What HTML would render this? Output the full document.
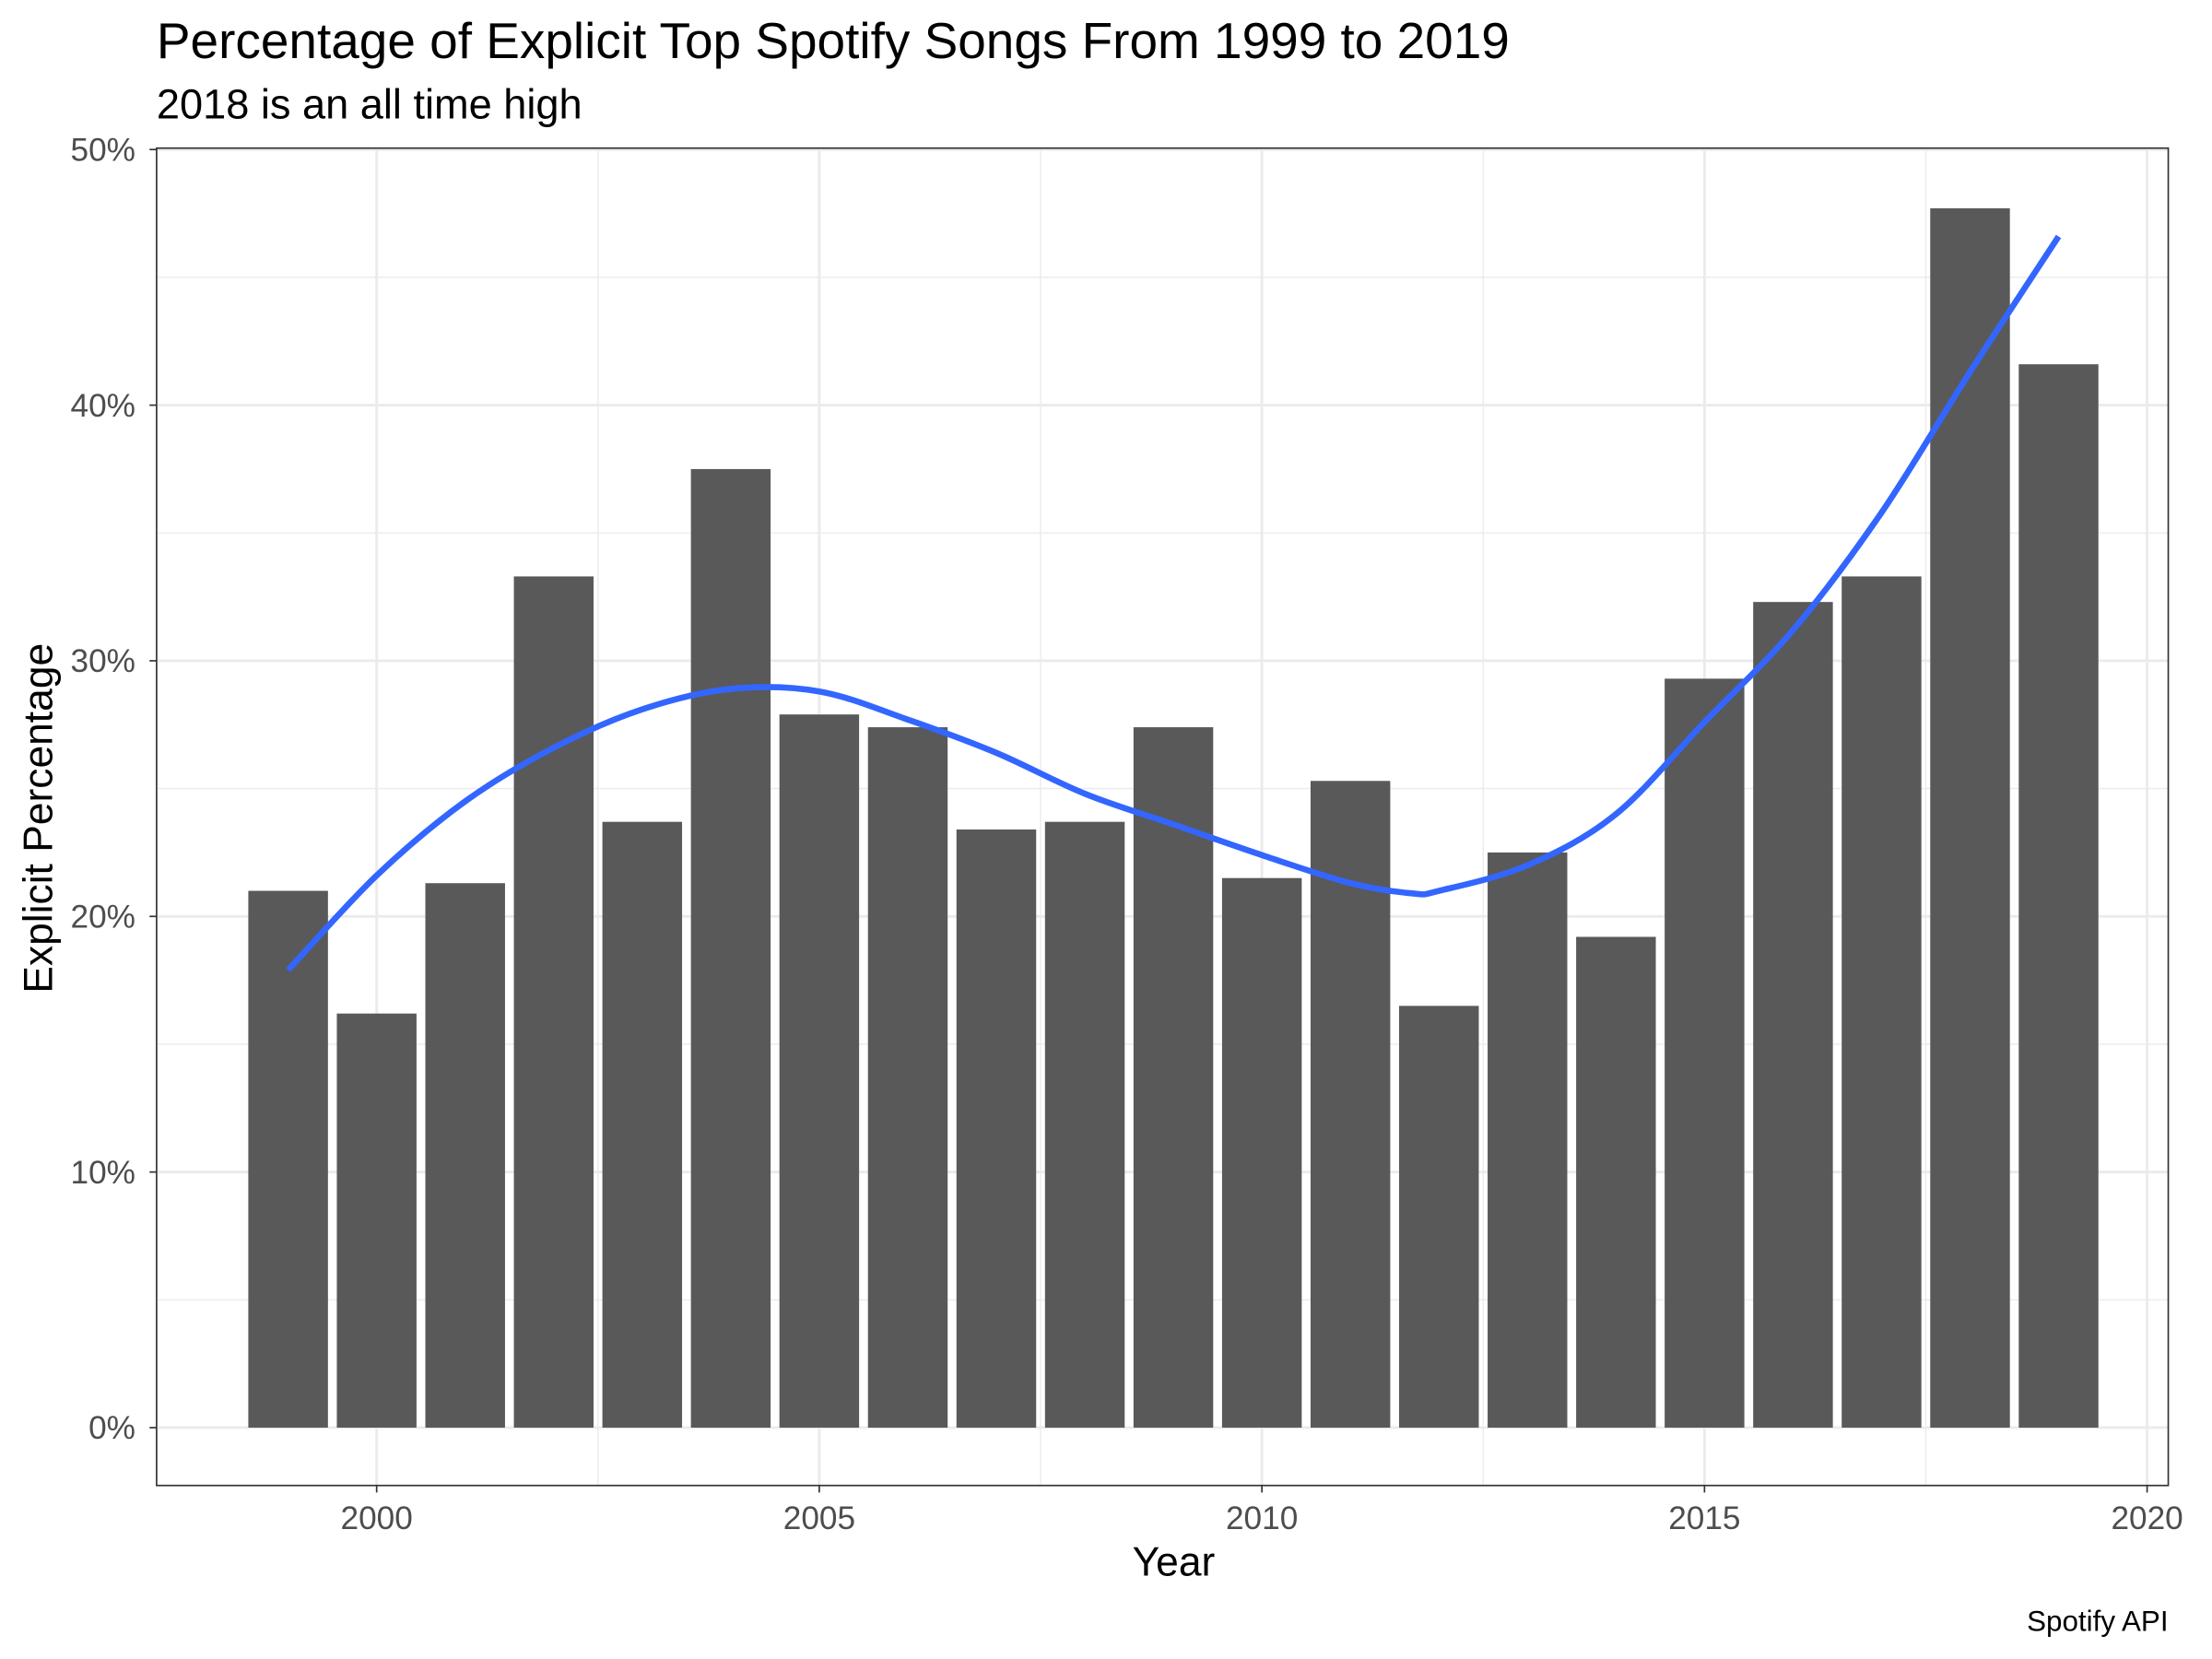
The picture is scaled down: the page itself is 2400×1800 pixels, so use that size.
<!DOCTYPE html>
<html><head><meta charset="utf-8"><style>
html,body{margin:0;padding:0;background:#fff;}
svg{display:block;font-family:"Liberation Sans",Arial,sans-serif;}
</style></head><body>
<svg id="chart" width="2400" height="1800" viewBox="0 0 1568 1176" xmlns="http://www.w3.org/2000/svg">
<rect width="1568" height="1176" fill="#fff"/>
<text x="111" y="41" font-size="35.9" fill="#000">Percentage of Explicit Top Spotify Songs From 1999 to 2019</text>
<text x="111" y="84" font-size="29.5" fill="#000">2018 is an all time high</text>
<g id="grid"></g>
<g id="bars"></g>
<g id="smooth"></g>
<rect x="111" y="105" width="1426" height="948" fill="none" stroke="#333" stroke-width="1.1"/>
<g id="axes"></g>
<text x="832" y="1117" font-size="29" text-anchor="middle">Year</text>
<text transform="translate(37,580) rotate(-90)" font-size="29" text-anchor="middle">Explicit Percentage</text>
<text x="1537" y="1156" font-size="20.5" text-anchor="end">Spotify API</text>
</svg>
<script>
const years = [1999,2000,2001,2002,2003,2004,2005,2006,2007,2008,2009,2010,2011,2012,2013,2014,2015,2016,2017,2018,2019];
const explicitPct = [21.0,16.2,21.3,33.3,23.7,37.5,27.9,27.4,23.4,23.7,27.4,21.5,25.3,16.5,22.5,19.2,29.3,32.3,33.3,47.7,41.6];
const smoothYears = [1999,2000,2001,2002,2003,2004,2005,2006,2007,2008,2009,2010,2011,2011.7,2012,2013,2014,2015,2016,2017,2018,2019];
const smoothPct = [17.9,21.6,24.5,26.6,28.1,28.9,28.8,27.7,26.4,24.8,23.6,22.4,21.3,20.9,21.0,22.0,24.0,27.6,31.2,35.8,41.3,46.6];
const yTicks = [0,10,20,30,40,50];
const yTickLabels = ["0%","10%","20%","30%","40%","50%"];
const xTicks = [2000,2005,2010,2015,2020];
const xTickLabels = ["2000","2005","2010","2015","2020"];

const NS="http://www.w3.org/2000/svg";
const X = v => 267 + (v-2000)*62.75;
const Y = v => 1012 - v*18.12;
function mk(tag, attrs, parent){const e=document.createElementNS(NS,tag);for(const k in attrs)e.setAttribute(k,attrs[k]);parent.appendChild(e);return e;}
const grid=document.getElementById('grid'), bars=document.getElementById('bars'), smooth=document.getElementById('smooth'), axes=document.getElementById('axes');

for(let i=0;i<yTicks.length-1;i++){const v=yTicks[i]+5;
  const l=mk('line',{x1:111,x2:1537,y1:Y(v),y2:Y(v),stroke:'#ebebeb','stroke-width':0.9},grid);
  
  }
for(let i=0;i<xTicks.length-1;i++){const v=xTicks[i]+2.5;
  const l=mk('line',{x1:X(v),x2:X(v),y1:105,y2:1053,stroke:'#ebebeb','stroke-width':0.9},grid);
  
  }
yTicks.forEach((v,i)=>{
  const l=mk('line',{x1:111,x2:1537,y1:Y(v),y2:Y(v),stroke:'#ebebeb','stroke-width':1.9},grid);
  
  
  const t=mk('line',{x1:106,x2:111,y1:Y(v),y2:Y(v),stroke:'#333','stroke-width':1.1},axes);
  
  
  const tx=mk('text',{x:96,y:Y(v)+8,'font-size':23,fill:'#4d4d4d','text-anchor':'end'},axes);
  tx.textContent=yTickLabels[i];
  
  
});
xTicks.forEach((v,i)=>{
  const l=mk('line',{x1:X(v),x2:X(v),y1:105,y2:1053,stroke:'#ebebeb','stroke-width':1.9},grid);
  
  
  const t=mk('line',{x1:X(v),x2:X(v),y1:1053,y2:1058,stroke:'#333','stroke-width':1.1},axes);
  
  
  const tx=mk('text',{x:X(v),y:1084,'font-size':23,fill:'#4d4d4d','text-anchor':'middle'},axes);
  tx.textContent=xTickLabels[i];
  
  
});
years.forEach((yr,i)=>{
  const w=0.9*62.75;
  const r=mk('rect',{x:X(yr)-w/2,y:Y(explicitPct[i]),width:w,height:Y(0)-Y(explicitPct[i]),fill:'#595959'},bars);
  
  
});
const pts=smoothYears.map((y,i)=>[X(y),Y(smoothPct[i])]);
let d='M'+pts[0][0]+','+pts[0][1];
for(let i=0;i<pts.length-1;i++){
  const p0=pts[Math.max(i-1,0)],p1=pts[i],p2=pts[i+1],p3=pts[Math.min(i+2,pts.length-1)];
  const c1=[p1[0]+(p2[0]-p0[0])/6,p1[1]+(p2[1]-p0[1])/6];
  const c2=[p2[0]-(p3[0]-p1[0])/6,p2[1]-(p3[1]-p1[1])/6];
  d+=' C'+c1+' '+c2+' '+p2;
}
const path=mk('path',{d:d,fill:'none',stroke:'#3366FF','stroke-width':4.3},smooth);


</script>
</body></html>
